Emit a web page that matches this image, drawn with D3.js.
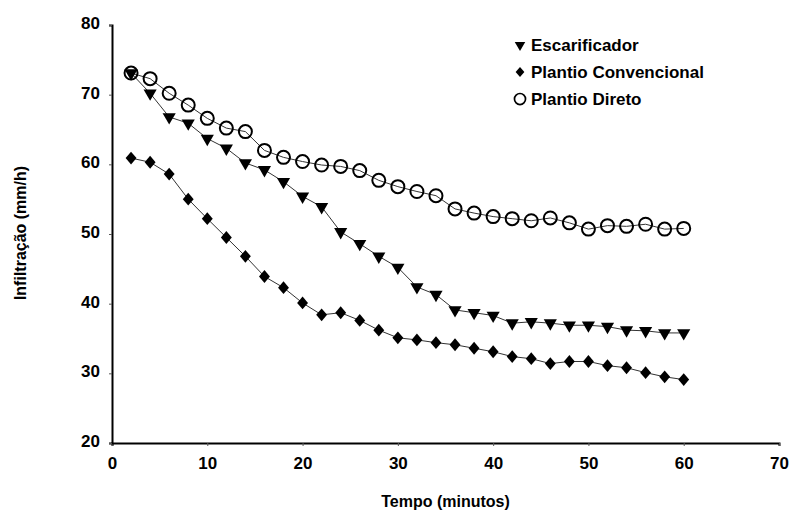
<!DOCTYPE html>
<html>
<head>
<meta charset="utf-8">
<script src="https://cdn.jsdelivr.net/npm/d3@7"></script>
<style>
    body { margin: 0; background: #fff; }
    text { font-family: "Liberation Sans", Arial, sans-serif; font-weight: bold; fill: #000; }
</style>
</head>
<body>
<div id="chart"></div>
<script>
// infiltration curves for three soil tillage systems

const tempo = [2, 4, 6, 8, 10, 12, 14, 16, 18, 20, 22, 24, 26, 28, 30,
    32, 34, 36, 38, 40, 42, 44, 46, 48, 50, 52, 54, 56, 58, 60];
const escarificador = [73.1, 70.2, 66.8, 65.9, 63.7, 62.3, 60.2, 59.2, 57.5, 55.4, 53.9, 50.3, 48.6, 46.8, 45.2,
    42.4, 41.3, 39.1, 38.7, 38.3, 37.2, 37.4, 37.2, 36.9, 36.9, 36.7, 36.2, 36.1, 35.8, 35.8];
const convencional = [60.9, 60.3, 58.6, 55.0, 52.2, 49.5, 46.8, 43.9, 42.3, 40.1, 38.4, 38.7, 37.6, 36.2, 35.1,
    34.8, 34.4, 34.1, 33.6, 33.1, 32.4, 32.1, 31.4, 31.7, 31.7, 31.1, 30.8, 30.1, 29.5, 29.1];
const direto = [73.1, 72.3, 70.2, 68.5, 66.6, 65.2, 64.7, 62.0, 61.0, 60.4, 59.9, 59.7, 59.1, 57.7, 56.8,
    56.1, 55.5, 53.6, 53.0, 52.5, 52.2, 51.9, 52.3, 51.6, 50.7, 51.2, 51.1, 51.4, 50.7, 50.8];
const seriesNames = ["Escarificador", "Plantio Convencional", "Plantio Direto"];
const xTicks = [0, 10, 20, 30, 40, 50, 60, 70];
const yTicks = [20, 30, 40, 50, 60, 70, 80];

const width = 790, height = 512;
const margin = { top: 25, right: 11, bottom: 69, left: 112 };

const x = d3.scaleLinear().domain([0, 70]).range([margin.left, width - margin.right]);
const y = d3.scaleLinear().domain([20, 80]).range([height - margin.bottom, margin.top]);

const svg = d3.select("#chart").append("svg")
    .attr("width", width)
    .attr("height", height);

// marker drawing, one per series
function triangle(g) {
    return g.append("path")
        .attr("d", d3.symbol(d3.symbolTriangle, 75)())
        .attr("transform", "rotate(180)")
        .attr("fill", "#000");
}
function diamond(g) {
    return g.append("path")
        .attr("d", d3.symbol(d3.symbolSquare, 82)())
        .attr("transform", "scale(0.85,1) rotate(45)")
        .attr("fill", "#000");
}
function circle(g) {
    return g.append("circle")
        .attr("r", 6.5)
        .attr("fill", "none")
        .attr("stroke", "#000")
        .attr("stroke-width", 2);
}

const series = [
    { name: seriesNames[0], values: escarificador, marker: triangle },
    { name: seriesNames[1], values: convencional, marker: diamond },
    { name: seriesNames[2], values: direto, marker: circle }
];

// axes
const xAxis = svg.append("g")
    .attr("transform", `translate(0,${y(20)})`)
    .call(d3.axisBottom(x).tickValues(xTicks).tickSize(3).tickPadding(11));
const yAxis = svg.append("g")
    .attr("transform", `translate(${x(0)},0)`)
    .call(d3.axisLeft(y).tickValues(yTicks).tickSize(3).tickPadding(9));

[xAxis, yAxis].forEach(a => {
    a.select(".domain").attr("stroke", "#000").attr("stroke-width", 2);
    a.selectAll(".tick line").attr("stroke", "#555").attr("stroke-width", 1);
    a.selectAll(".tick text")
        .attr("font-size", 17)
        .attr("font-family", "Liberation Sans, Arial, sans-serif")
        .attr("font-weight", "bold");
});
yAxis.selectAll(".tick text").attr("dy", "0.2em");

svg.append("text")
    .attr("x", x(35))
    .attr("y", 507)
    .attr("text-anchor", "middle")
    .attr("font-size", 16)
    .text("Tempo (minutos)");

svg.append("text")
    .attr("transform", `translate(26,${y(50) - 1}) rotate(-90)`)
    .attr("text-anchor", "middle")
    .attr("font-size", 16)
    .text("Infiltração (mm/h)");

// lines then markers
const line = d3.line()
    .x((d, i) => x(tempo[i]))
    .y(d => y(d));

series.forEach(s => {
    svg.append("path")
        .datum(s.values)
        .attr("d", line)
        .attr("fill", "none")
        .attr("stroke", "#333")
        .attr("stroke-width", 1);
});

series.forEach(s => {
    const g = svg.append("g");
    s.values.forEach((v, i) => {
        const m = g.append("g").attr("transform", `translate(${x(tempo[i])},${y(v)})`);
        s.marker(m);
    });
});

// legend
const legend = svg.append("g").attr("transform", "translate(520,45)");
series.forEach((s, i) => {
    const row = legend.append("g").attr("transform", `translate(0,${i * 27})`);
    const m = row.append("g").attr("transform", i === 2 ? "scale(0.85)" : "scale(0.8)");
    s.marker(m);
    row.append("text")
        .attr("x", 11)
        .attr("y", 6)
        .attr("font-size", 17)
        .text(s.name);
});
</script>
</body>
</html>
